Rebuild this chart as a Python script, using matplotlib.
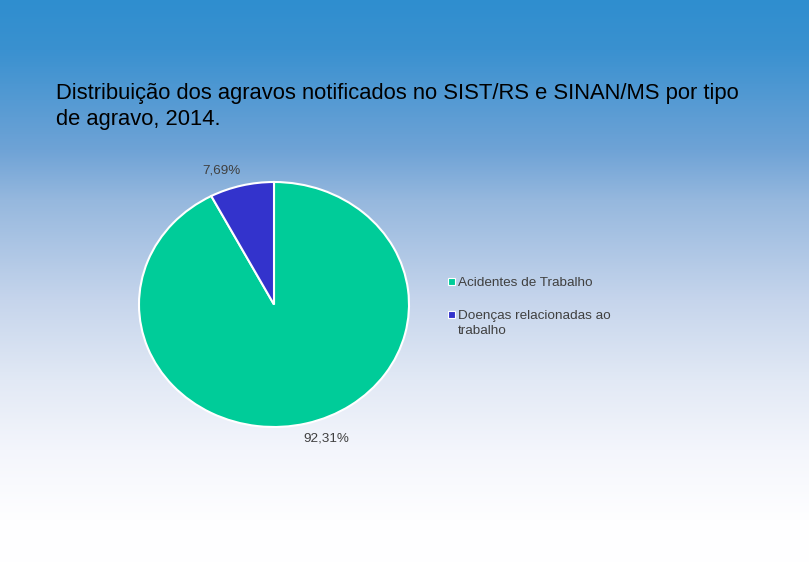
import numpy as np
import matplotlib.pyplot as plt
from matplotlib.patches import Rectangle

# data
labels = ["Acidentes de Trabalho", "Doenças relacionadas ao\ntrabalho"]
values = [92.31, 7.69]
pct_labels = ["92,31%", "7,69%"]
colors = ["#00CC99", "#3333CC"]
title = "Distribuição dos agravos notificados no SIST/RS e SINAN/MS por tipo\nde agravo, 2014."

W, H = 809, 562
fig = plt.figure(figsize=(W / 100, H / 100), dpi=100)

# gradient background (stops, by pixel row)
stop_y = [0, 50, 150, 200, 300, 380, 450, 520, 562]
stop_c = ["#2F8ECF", "#3A91D0", "#6FA3D6", "#96B8DE", "#C6D5EC", "#E2E9F5", "#F4F6FC", "#FEFEFF", "#FFFFFF"]
rgb = np.array([[int(c[i:i + 2], 16) / 255.0 for i in (1, 3, 5)] for c in stop_c])
rows = np.arange(H)
grad = np.stack([np.interp(rows, stop_y, rgb[:, k]) for k in range(3)], axis=-1)[:, None, :]
grad = np.repeat(grad, 2, axis=1)
bg = fig.add_axes([0, 0, 1, 1])
bg.imshow(grad, aspect="auto", extent=[0, 1, 0, 1], origin="upper")
bg.axis("off")

fig.text(56 / W, 1 - 83 / H, title, fontsize=15.8, family="Liberation Sans",
         color="black", va="top", ha="left", linespacing=1.3)

# pie
ax = fig.add_axes([139 / W, 1 - 427 / H, 270 / W, 245 / H])
wedges, _ = ax.pie(values, colors=colors, startangle=90, counterclock=False,
                   wedgeprops=dict(edgecolor="white", linewidth=1.5))
ax.set_aspect("auto")
ax.set_xlim(-1, 1)
ax.set_ylim(-1, 1)
for w, lab in zip(wedges, pct_labels):
    ang = np.deg2rad((w.theta1 + w.theta2) / 2 + 5.7)
    ax.text(1.165 * np.cos(ang), 1.165 * np.sin(ang), lab, ha="center", va="center",
            fontsize=9.7, color="#404040", family="Liberation Sans")

# legend, square next to the first line of each entry
for i, (lab, c) in enumerate(zip(labels, colors)):
    y = 281 + 33 * i
    fig.add_artist(Rectangle((448 / W, 1 - (y + 3.5) / H), 7 / W, 7 / H,
                             facecolor=c, edgecolor="white", linewidth=0.8,
                             transform=fig.transFigure))
    fig.text(458 / W, 1 - (y - 4) / H, lab, fontsize=9.7, family="Liberation Sans",
             color="#404040", va="top", ha="left", linespacing=1.3)

fig.savefig("out.png", dpi=100)
